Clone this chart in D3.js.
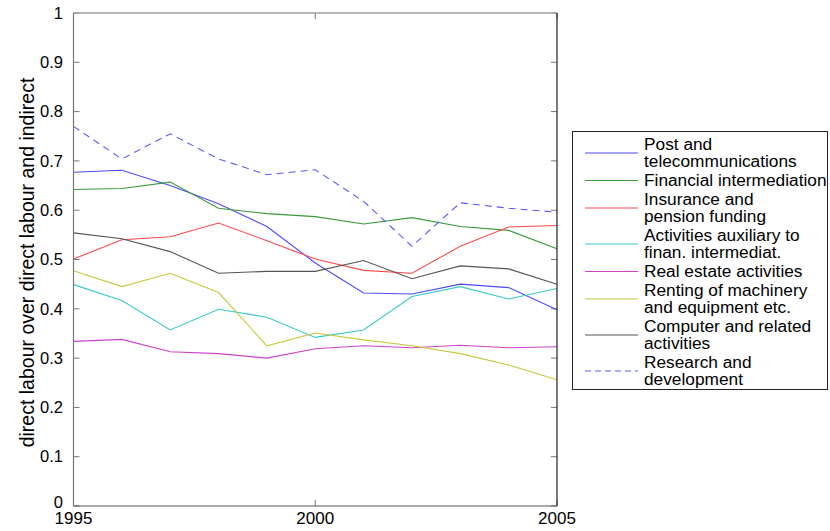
<!DOCTYPE html>
<html>
<head>
<meta charset="utf-8">
<script src="https://cdn.jsdelivr.net/npm/d3@7"></script>
<style>
  body { margin: 0; background: #fff; }
  text { font-family: "Liberation Sans", Arial, sans-serif; }
</style>
</head>
<body>
<svg id="chart" width="830" height="531"></svg>
<script>
const years = [1995, 1996, 1997, 1998, 1999, 2000, 2001, 2002, 2003, 2004, 2005];
const postTelecom   = [0.677, 0.681, 0.650, 0.613, 0.567, 0.493, 0.432, 0.430, 0.450, 0.443, 0.398];
const financial     = [0.642, 0.644, 0.657, 0.604, 0.593, 0.587, 0.572, 0.585, 0.567, 0.559, 0.522];
const insurance     = [0.501, 0.540, 0.546, 0.574, 0.538, 0.501, 0.478, 0.472, 0.527, 0.566, 0.569];
const auxiliary     = [0.449, 0.417, 0.357, 0.399, 0.383, 0.342, 0.357, 0.425, 0.445, 0.420, 0.441];
const realEstate    = [0.334, 0.338, 0.313, 0.309, 0.300, 0.319, 0.325, 0.321, 0.326, 0.321, 0.323];
const renting       = [0.477, 0.445, 0.472, 0.433, 0.325, 0.351, 0.337, 0.325, 0.309, 0.286, 0.256];
const computer      = [0.554, 0.542, 0.516, 0.472, 0.476, 0.476, 0.498, 0.461, 0.487, 0.481, 0.450];
const research      = [0.770, 0.704, 0.755, 0.704, 0.672, 0.682, 0.618, 0.527, 0.615, 0.604, 0.596];

const seriesNames = [
  ["Post and", "telecommunications"],
  ["Financial intermediation"],
  ["Insurance and", "pension funding"],
  ["Activities auxiliary to", "finan. intermediat."],
  ["Real estate activities"],
  ["Renting of machinery", "and equipment etc."],
  ["Computer and related", "activities"],
  ["Research and", "development"]
];
const seriesValues = [postTelecom, financial, insurance, auxiliary, realEstate, renting, computer, research];
const seriesColors = ["#4a4aff", "#3a9a3a", "#ff4a4a", "#3cc8c8", "#cc44cc", "#c8c83c", "#555555", "#5a5aff"];
const seriesDash = [null, null, null, null, null, null, null, "7,5"];

const yTicks = [0, 0.1, 0.2, 0.3, 0.4, 0.5, 0.6, 0.7, 0.8, 0.9, 1];
const yTickLabels = ["0", "0.1", "0.2", "0.3", "0.4", "0.5", "0.6", "0.7", "0.8", "0.9", "1"];
const xTicks = [1995, 2000, 2005];
const yLabel = "direct labour over direct labour and indirect";

const svg = d3.select("#chart");
const L = 73.5, R = 557, T = 13, B = 506;
const x = d3.scaleLinear().domain([1995, 2005]).range([L, R]);
const y = d3.scaleLinear().domain([0, 1]).range([B, T]);

// ticks (inside, both sides)
const tk = svg.append("g").attr("stroke", "#777").attr("stroke-width", 1);
yTicks.forEach(v => {
  tk.append("line").attr("x1", L).attr("x2", L + 6).attr("y1", y(v)).attr("y2", y(v));
  tk.append("line").attr("x1", R - 6).attr("x2", R).attr("y1", y(v)).attr("y2", y(v));
});
xTicks.forEach(v => {
  tk.append("line").attr("x1", x(v)).attr("x2", x(v)).attr("y1", B).attr("y2", B - 6);
  tk.append("line").attr("x1", x(v)).attr("x2", x(v)).attr("y1", T).attr("y2", T + 6);
});

// lines
const line = d3.line().x((d, i) => x(years[i])).y(d => y(d));
seriesValues.forEach((vals, k) => {
  svg.append("path")
    .datum(vals)
    .attr("d", line)
    .attr("fill", "none")
    .attr("stroke", seriesColors[k])
    .attr("stroke-width", 1.1)
    .attr("stroke-dasharray", seriesDash[k]);
});

// frame
svg.append("line").attr("x1", L).attr("x2", R).attr("y1", T).attr("y2", T).attr("stroke", "#a0a0a0").attr("stroke-width", 1.3);
svg.append("line").attr("x1", R).attr("x2", R).attr("y1", T).attr("y2", B).attr("stroke", "#222").attr("stroke-width", 1.2);
svg.append("line").attr("x1", L).attr("x2", R).attr("y1", B).attr("y2", B).attr("stroke", "#555").attr("stroke-width", 1.2);
svg.append("line").attr("x1", L).attr("x2", L).attr("y1", T).attr("y2", B).attr("stroke", "#777").attr("stroke-width", 1.2);

// y tick labels
yTicks.forEach((v, i) => {
  svg.append("text")
    .attr("x", 63).attr("y", y(v) + (v === 0 ? -4 : 0))
    .attr("dy", "0.35em")
    .attr("text-anchor", "end")
    .attr("font-size", 16.5)
    .attr("fill", "#000")
    .text(yTickLabels[i]);
});
// x tick labels
xTicks.forEach(v => {
  svg.append("text")
    .attr("x", x(v)).attr("y", 524)
    .attr("text-anchor", "middle")
    .attr("font-size", 17)
    .attr("fill", "#000")
    .text(String(v));
});

// y label
svg.append("text")
  .attr("transform", `translate(34, ${(T + B) / 2 + 3}) rotate(-90)`)
  .attr("text-anchor", "middle")
  .attr("font-size", 19.5)
  .attr("fill", "#000")
  .text(yLabel);

// legend
const lg = svg.append("g");
lg.append("rect").attr("x", 572.5).attr("y", 131.5).attr("width", 255).attr("height", 258)
  .attr("fill", "#fff").attr("stroke", "#222").attr("stroke-width", 1);
let cy = 135;
seriesNames.forEach((lines, k) => {
  const h = lines.length === 1 ? 19 : 36;
  const mid = cy + h / 2;
  lg.append("line").attr("x1", 585).attr("x2", 638).attr("y1", mid).attr("y2", mid)
    .attr("stroke", seriesColors[k]).attr("stroke-width", 1.1)
    .attr("stroke-dasharray", seriesDash[k] ? "6,4" : null);
  lines.forEach((t, j) => {
    lg.append("text")
      .attr("x", 644).attr("y", cy + 9 + j * 17)
      .attr("dy", "0.35em")
      .attr("font-size", 17.3)
      .attr("fill", "#000")
      .text(t);
  });
  cy += h;
});
</script>
</body>
</html>
